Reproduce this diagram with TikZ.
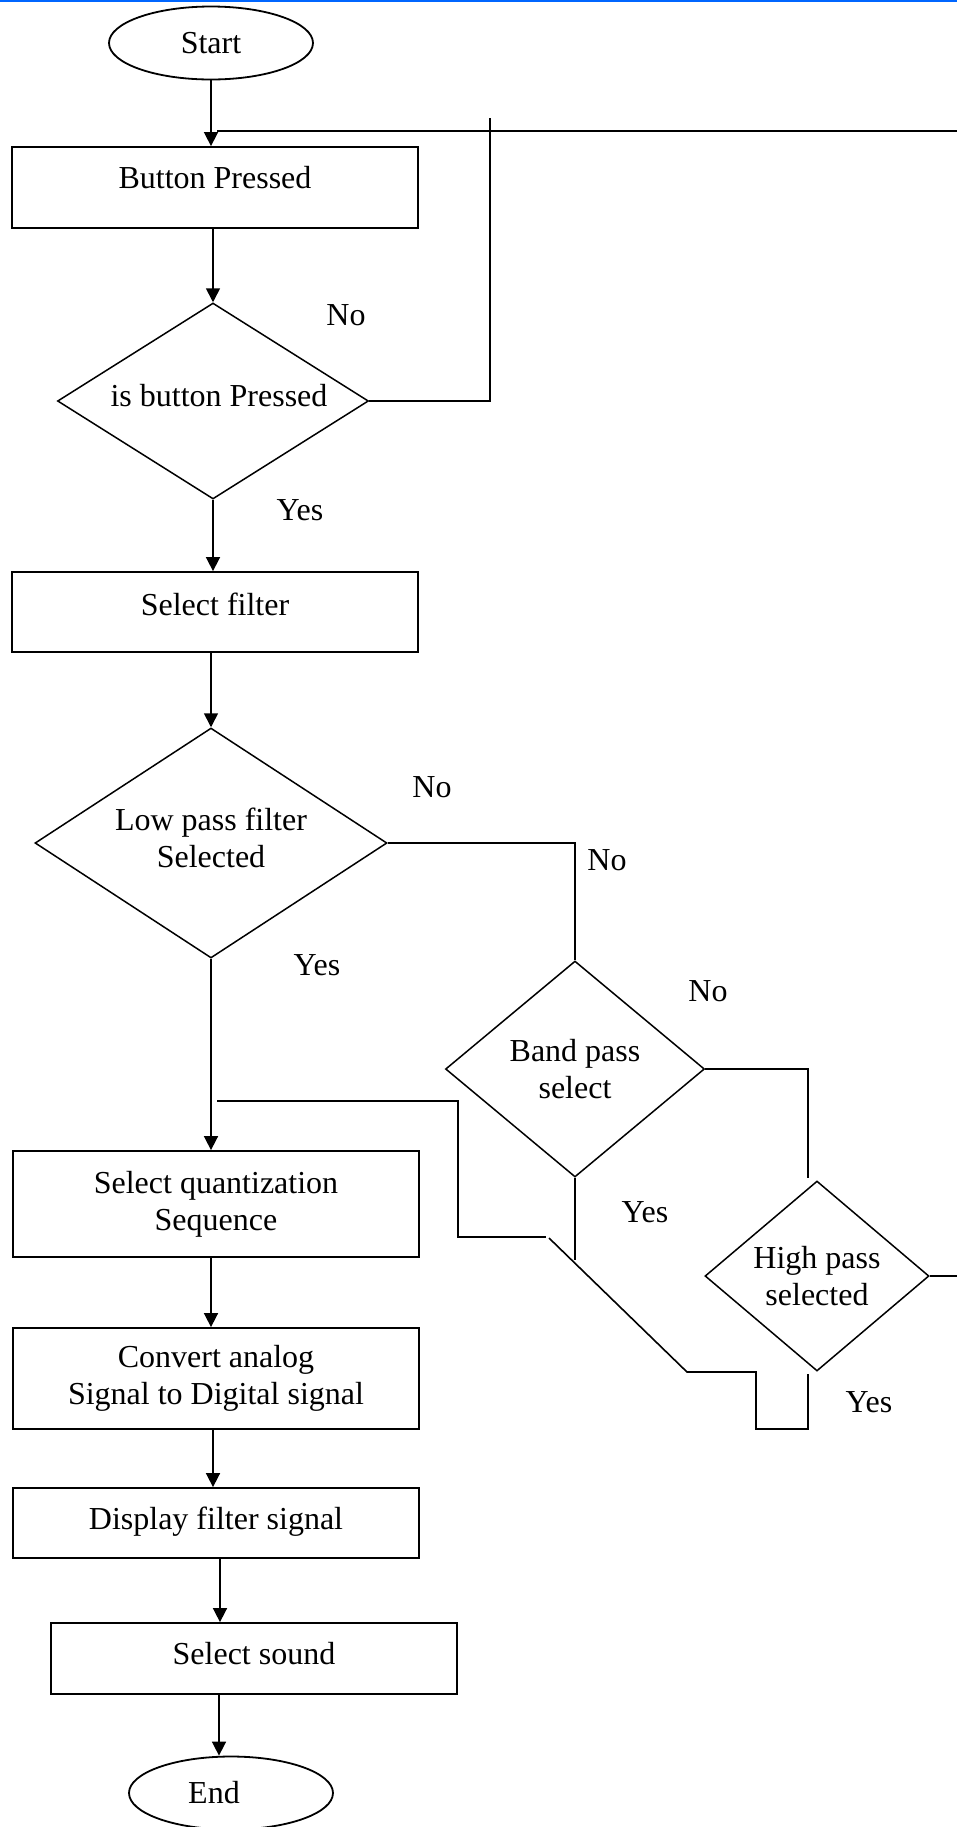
\documentclass[tikz,border=0pt]{standalone}
\usepackage{fontspec}
\setmainfont{Liberation Serif}
\usetikzlibrary{shapes.geometric,arrows.meta}
\definecolor{topblue}{RGB}{0,102,255}
\begin{document}
\begin{tikzpicture}[x=0.5pt,y=-0.5pt,
  every node/.style={font=\fontsize{16}{18.5}\selectfont},
  proc/.style={draw,line width=0.9pt,rectangle,minimum width=203pt,inner sep=0pt,align=center},
  dec/.style={draw,line width=0.75pt,diamond,inner sep=0pt,align=center,aspect=1.5},
  term/.style={draw,line width=0.9pt,ellipse,minimum width=102pt,minimum height=36.5pt,inner sep=0pt},
  conn/.style={line width=0.8pt},
  arr/.style={conn,-{Triangle[length=7pt,width=7pt]}},
  lbl/.style={inner sep=0pt}]
\useasboundingbox (0,0) rectangle (957,1827);
\fill[topblue] (0,0) rectangle (957,2);

% nodes
\node[term] (start) at (211,43) {Start};
\node[proc,minimum height=40.5pt,text depth=10pt] (b1) at (215,187.5) {Button Pressed};
\node[dec,minimum width=155.5pt,minimum height=98pt,text depth=6pt] (d1) at (213,401) {\hspace*{6pt}is button Pressed};
\node[proc,minimum height=40pt,text depth=8.2pt] (b2) at (215,612) {Select filter};
\node[dec,minimum width=176pt,minimum height=115pt] (d2) at (211,843) {Low pass filter\\Selected\\[-13.5pt]\mbox{}};
\node[dec,minimum width=129.5pt,minimum height=108pt] (d3) at (575,1069) {Band pass\\select};
\node[dec,minimum width=112pt,minimum height=95pt] (d4) at (817,1276) {High pass\\selected};
\node[proc,minimum height=53pt] (b3) at (216,1204) {Select quantization\\Sequence};
\node[proc,minimum height=50.5pt] (b4) at (216,1378.5) {Convert analog\\Signal to Digital signal};
\node[proc,minimum height=35pt,text depth=5.2pt] (b5) at (216,1523) {Display filter signal};
\node[proc,minimum height=35.5pt,text depth=4.7pt] (b6) at (254,1658.5) {Select sound};
\node[term] (end) at (231,1793) {End\hspace*{17pt}};

% labels
\node[lbl] (no1) at (346,315) {No};
\node[lbl] (yes1) at (300,510) {Yes};
\node[lbl] (no2) at (432,787) {No};
\node[lbl] (no3) at (607,860) {No};
\node[lbl] (yes2) at (317,965) {Yes};
\node[lbl] (no4) at (708,991) {No};
\node[lbl] (yes3) at (645,1212) {Yes};
\node[lbl] (yes4) at (869,1402) {Yes};

% helper coordinates
\coordinate (fbtop) at (490,118);
\coordinate (fbL) at (217,131);
\coordinate (fbR) at (957,131);
\coordinate (m1) at (217,1101);
\coordinate (m2) at (458,1101);
\coordinate (m3) at (458,1237);
\coordinate (m5) at (546,1237);
\coordinate (m6) at (549,1238);
\coordinate (m7) at (687,1372);
\coordinate (m8) at (756,1372);
\coordinate (m9) at (756,1429);
\coordinate (m10) at (808,1429);
\coordinate (m11) at (808,1374);
\coordinate (d3e) at (575,1260);
\coordinate (d4top) at (808,1178);

% connectors
\draw[arr] (start) -- (start |- b1.north);
\draw[arr] (b1.south -| d1.north) -- (d1.north);
\draw[conn] (d1.east) -- (d1.east -| fbtop) -- (fbtop);
\draw[line width=1pt] (fbL) -- (fbR);
\draw[arr] (d1.south) -- (d1.south |- b2.north);
\draw[arr] (b2.south -| d2.north) -- (d2.north);
\draw[conn] (d2.east) -| (d3.north);
\draw[arr] (d2.south) -- (d2.south |- b3.north);
\draw[conn] (m1) -- (m2) -- (m3) -- (m5);
\draw[conn] (m6) -- (m7) -- (m8) -- (m9) -- (m10) -- (m11);
\draw[conn] (d3.south) -- (d3e);
\draw[conn] (d3.east) -| (d4top);
\draw[conn] (d4.east) -- (d4.east -| fbR);
\draw[arr] (d2.south |- b3.south) -- (d2.south |- b4.north);
\draw[arr] ([xshift=-1.5pt]b4.south) -- ([xshift=-1.5pt]b5.north);
\draw[arr] ([xshift=2pt]b5.south) -- ([xshift=2pt]b5.south |- b6.north);
\draw[arr] ([xshift=-17.5pt]b6.south) -- ([xshift=-17.5pt]b6.south |- end.north);
\end{tikzpicture}
\end{document}
